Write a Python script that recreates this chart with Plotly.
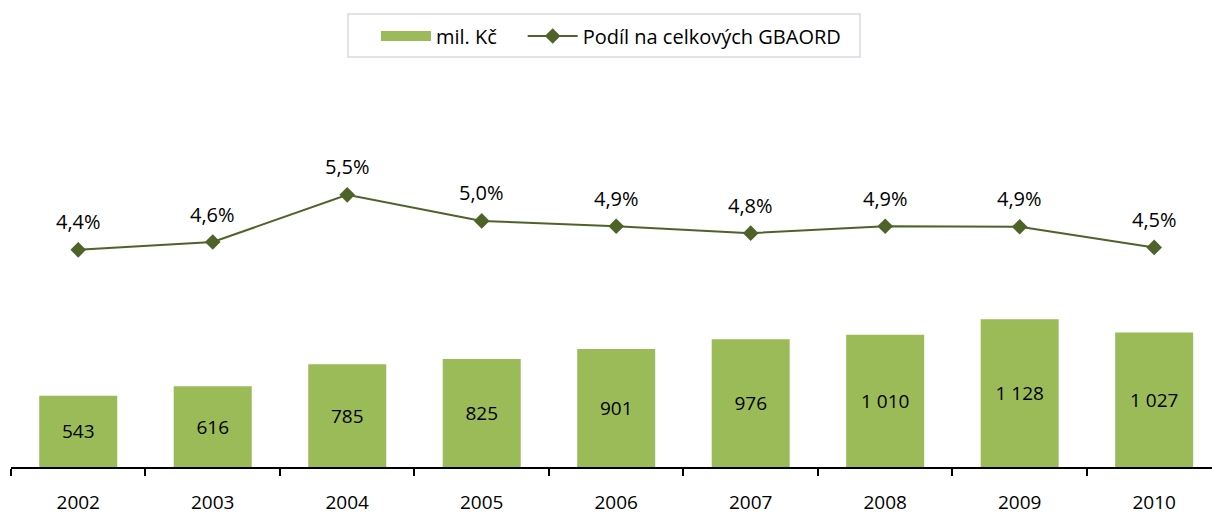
import plotly.graph_objects as go

years = ["2002", "2003", "2004", "2005", "2006", "2007", "2008", "2009", "2010"]
mil_kc = [543, 616, 785, 825, 901, 976, 1010, 1128, 1027]
podil = [4.42, 4.58, 5.54, 5.01, 4.90, 4.76, 4.90, 4.89, 4.47]

bar_text = [f"{v:,}".replace(",", " ") for v in mil_kc]
line_text = [f"{v:.1f}".replace(".", ",") + "%" for v in podil]

BAR = "#9bbb59"
LINE = "#4f6228"
FONT = "Open Sans"

# plot area in pixels (used to place the legend frame)
L, R, T, B, W, H = 11, 0, 74, 48, 1212, 515
PW, PH = W - L - R, H - T - B

def px_to_paper(x, y):
    return (x - L) / PW, (H - B - y) / PH

fig = go.Figure()
fig.add_trace(go.Bar(
    x=years, y=mil_kc, name="mil. Kč", marker=dict(color=BAR, line=dict(width=0)),
    width=0.58, text=bar_text, textposition="inside", insidetextanchor="middle",
    textfont=dict(family=FONT, size=19, color="#000000"), showlegend=False,
    yaxis="y",
))
# legend-only entry for bars (wide rectangle swatch)
fig.add_trace(go.Scatter(
    x=[None], y=[None], mode="lines", name="mil. Kč\u00a0\u00a0\u00a0\u00a0",
    line=dict(color=BAR, width=11), showlegend=True,
))
fig.add_trace(go.Scatter(
    x=years, y=podil, name="Podíl na celkových GBAORD", mode="lines+markers",
    line=dict(color=LINE, width=2), marker=dict(symbol="diamond", size=12, color=LINE),
    yaxis="y2", cliponaxis=False,
))

x0, y0 = px_to_paper(348, 57)
x1, y1 = px_to_paper(860, 14)

hidden_axis = dict(showgrid=False, showline=False, zeroline=False, ticks="",
                   showticklabels=False)

fig.update_layout(
    width=W, height=H,
    margin=dict(l=L, r=R, t=T, b=B),
    paper_bgcolor="white", plot_bgcolor="white",
    font=dict(family=FONT, size=19, color="#000000"),
    xaxis=dict(
        type="category", range=[-0.5, 8.43], showgrid=False, automargin=False,
        showline=True, linecolor="#000000", linewidth=2,
        ticks="outside", tickson="boundaries", ticklen=7, tickwidth=2, tickcolor="#000000",
        tickfont=dict(family=FONT, size=19, color="#000000"),
        ticklabelstandoff=17,
    ),
    yaxis=dict(range=[0, 3000], automargin=False, **hidden_axis),
    yaxis2=dict(range=[0, 8], overlaying="y", side="right", automargin=False, **hidden_axis),
    shapes=[dict(type="rect", xref="paper", yref="paper", x0=x0, x1=x1, y0=y0, y1=y1,
                 line=dict(color="#d9d9e3", width=1.5), fillcolor="rgba(0,0,0,0)", layer="below")],
    legend=dict(
        orientation="h", xref="container", yref="container",
        x=376 / W, xanchor="left", y=1 - 36 / H, yanchor="middle",
        borderwidth=0, bgcolor="rgba(0,0,0,0)",
        font=dict(family=FONT, size=20, color="#000000"),
        itemwidth=50, traceorder="normal",
    ),
)

for i, (v, t) in enumerate(zip(podil, line_text)):
    fig.add_annotation(x=i, y=v, xref="x", yref="y2", text=t, showarrow=False,
                       yshift=28, font=dict(family=FONT, size=20, color="#000000"))

fig.write_html("out.html", config={"displayModeBar": False},
               post_script="document.body.style.margin='0';")
